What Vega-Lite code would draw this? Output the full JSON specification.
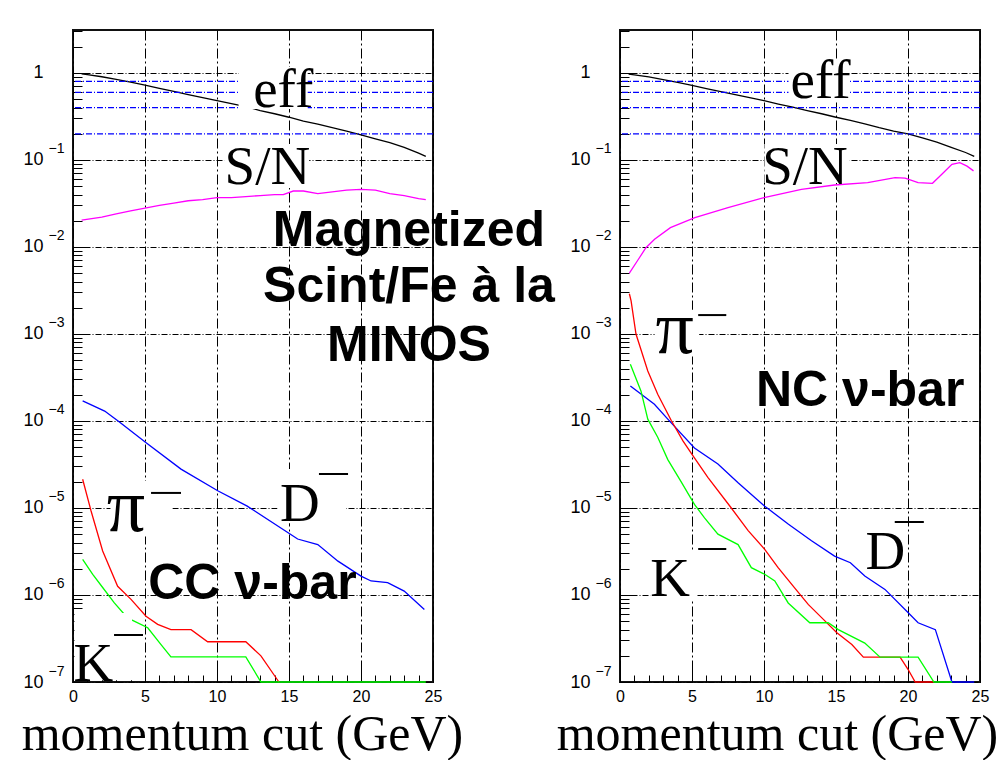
{
  "$schema": "https://vega.github.io/schema/vega-lite/v6.json",
  "background": "white",
  "padding": {"left": 20, "top": 29, "right": 0, "bottom": 0},
  "autosize": {"type": "pad"},
  "config": {
    "view": {"stroke": "#111111", "strokeWidth": 2},
    "axis": {"labelFont": "Liberation Sans", "labelColor": "black", "tickColor": "black", "tickWidth": 1}
  },
  "datasets": {
    "hlines": [{"y": 0.2}, {"y": 0.4}, {"y": 0.6}, {"y": 0.8}],
    "curves": [
      {"panel": "L", "series": "eff", "x": 0.6, "y": 0.98},
      {"panel": "L", "series": "eff", "x": 1, "y": 0.96},
      {"panel": "L", "series": "eff", "x": 2, "y": 0.905},
      {"panel": "L", "series": "eff", "x": 3, "y": 0.845},
      {"panel": "L", "series": "eff", "x": 4, "y": 0.785},
      {"panel": "L", "series": "eff", "x": 5, "y": 0.725},
      {"panel": "L", "series": "eff", "x": 6, "y": 0.665},
      {"panel": "L", "series": "eff", "x": 7, "y": 0.615},
      {"panel": "L", "series": "eff", "x": 8, "y": 0.565},
      {"panel": "L", "series": "eff", "x": 9, "y": 0.52},
      {"panel": "L", "series": "eff", "x": 10, "y": 0.48},
      {"panel": "L", "series": "eff", "x": 11, "y": 0.445},
      {"panel": "L", "series": "eff", "x": 12, "y": 0.41},
      {"panel": "L", "series": "eff", "x": 13, "y": 0.37},
      {"panel": "L", "series": "eff", "x": 14, "y": 0.34},
      {"panel": "L", "series": "eff", "x": 15, "y": 0.31},
      {"panel": "L", "series": "eff", "x": 16, "y": 0.28},
      {"panel": "L", "series": "eff", "x": 17, "y": 0.258},
      {"panel": "L", "series": "eff", "x": 18, "y": 0.235},
      {"panel": "L", "series": "eff", "x": 19, "y": 0.215},
      {"panel": "L", "series": "eff", "x": 20, "y": 0.195},
      {"panel": "L", "series": "eff", "x": 21, "y": 0.175},
      {"panel": "L", "series": "eff", "x": 22, "y": 0.158},
      {"panel": "L", "series": "eff", "x": 23, "y": 0.14},
      {"panel": "L", "series": "eff", "x": 24, "y": 0.12},
      {"panel": "L", "series": "eff", "x": 24.5, "y": 0.11},
      {"panel": "L", "series": "S/N", "x": 0.6, "y": 0.0204},
      {"panel": "L", "series": "S/N", "x": 2, "y": 0.022},
      {"panel": "L", "series": "S/N", "x": 3, "y": 0.024},
      {"panel": "L", "series": "S/N", "x": 4, "y": 0.026},
      {"panel": "L", "series": "S/N", "x": 5, "y": 0.028},
      {"panel": "L", "series": "S/N", "x": 6, "y": 0.03},
      {"panel": "L", "series": "S/N", "x": 7, "y": 0.032},
      {"panel": "L", "series": "S/N", "x": 8, "y": 0.034},
      {"panel": "L", "series": "S/N", "x": 9, "y": 0.035},
      {"panel": "L", "series": "S/N", "x": 10, "y": 0.037},
      {"panel": "L", "series": "S/N", "x": 11, "y": 0.037},
      {"panel": "L", "series": "S/N", "x": 12, "y": 0.038},
      {"panel": "L", "series": "S/N", "x": 13, "y": 0.039},
      {"panel": "L", "series": "S/N", "x": 14, "y": 0.04},
      {"panel": "L", "series": "S/N", "x": 14.6, "y": 0.04},
      {"panel": "L", "series": "S/N", "x": 15.3, "y": 0.044},
      {"panel": "L", "series": "S/N", "x": 16, "y": 0.044},
      {"panel": "L", "series": "S/N", "x": 17, "y": 0.041},
      {"panel": "L", "series": "S/N", "x": 18, "y": 0.043},
      {"panel": "L", "series": "S/N", "x": 19, "y": 0.045},
      {"panel": "L", "series": "S/N", "x": 20, "y": 0.046},
      {"panel": "L", "series": "S/N", "x": 21, "y": 0.045},
      {"panel": "L", "series": "S/N", "x": 22, "y": 0.041},
      {"panel": "L", "series": "S/N", "x": 23, "y": 0.039},
      {"panel": "L", "series": "S/N", "x": 24, "y": 0.036},
      {"panel": "L", "series": "S/N", "x": 24.5, "y": 0.035},
      {"panel": "L", "series": "D", "x": 0.67, "y": 1.7e-4},
      {"panel": "L", "series": "D", "x": 2.2, "y": 1.3e-4},
      {"panel": "L", "series": "D", "x": 3.2, "y": 9.8e-5},
      {"panel": "L", "series": "D", "x": 5.1, "y": 5.6e-5},
      {"panel": "L", "series": "D", "x": 7.5, "y": 2.8e-5},
      {"panel": "L", "series": "D", "x": 10.05, "y": 1.58e-5},
      {"panel": "L", "series": "D", "x": 12.1, "y": 1.05e-5},
      {"panel": "L", "series": "D", "x": 15.1, "y": 5.0e-6},
      {"panel": "L", "series": "D", "x": 15.6, "y": 4.4e-6},
      {"panel": "L", "series": "D", "x": 17.0, "y": 3.8e-6},
      {"panel": "L", "series": "D", "x": 18.4, "y": 2.45e-6},
      {"panel": "L", "series": "D", "x": 20.0, "y": 1.65e-6},
      {"panel": "L", "series": "D", "x": 20.7, "y": 1.45e-6},
      {"panel": "L", "series": "D", "x": 21.85, "y": 1.39e-6},
      {"panel": "L", "series": "D", "x": 23.0, "y": 1.11e-6},
      {"panel": "L", "series": "D", "x": 24.4, "y": 6.8e-7},
      {"panel": "L", "series": "pi", "x": 0.67, "y": 2.14e-5},
      {"panel": "L", "series": "pi", "x": 1.25, "y": 9.3e-6},
      {"panel": "L", "series": "pi", "x": 2.06, "y": 3.2e-6},
      {"panel": "L", "series": "pi", "x": 3.1, "y": 1.26e-6},
      {"panel": "L", "series": "pi", "x": 4.03, "y": 8.9e-7},
      {"panel": "L", "series": "pi", "x": 5.07, "y": 5.7e-7},
      {"panel": "L", "series": "pi", "x": 5.88, "y": 4.6e-7},
      {"panel": "L", "series": "pi", "x": 6.8, "y": 4.0e-7},
      {"panel": "L", "series": "pi", "x": 8.2, "y": 4.0e-7},
      {"panel": "L", "series": "pi", "x": 9.35, "y": 2.9e-7},
      {"panel": "L", "series": "pi", "x": 12.0, "y": 2.9e-7},
      {"panel": "L", "series": "pi", "x": 13.05, "y": 2.0e-7},
      {"panel": "L", "series": "pi", "x": 14.3, "y": 1e-7},
      {"panel": "L", "series": "K", "x": 0.67, "y": 2.57e-6},
      {"panel": "L", "series": "K", "x": 1.37, "y": 1.73e-6},
      {"panel": "L", "series": "K", "x": 2.06, "y": 1.22e-6},
      {"panel": "L", "series": "K", "x": 2.87, "y": 8.1e-7},
      {"panel": "L", "series": "K", "x": 3.56, "y": 6.0e-7},
      {"panel": "L", "series": "K", "x": 4.14, "y": 5.1e-7},
      {"panel": "L", "series": "K", "x": 5.19, "y": 4.2e-7},
      {"panel": "L", "series": "K", "x": 6.1, "y": 2.7e-7},
      {"panel": "L", "series": "K", "x": 6.8, "y": 1.94e-7},
      {"panel": "L", "series": "K", "x": 12.0, "y": 1.94e-7},
      {"panel": "L", "series": "K", "x": 13.05, "y": 1e-7},
      {"panel": "L", "series": "K", "x": 24.5, "y": 1e-7},
      {"panel": "R", "series": "eff", "x": 0.6, "y": 0.97},
      {"panel": "R", "series": "eff", "x": 1, "y": 0.95},
      {"panel": "R", "series": "eff", "x": 2, "y": 0.9},
      {"panel": "R", "series": "eff", "x": 3, "y": 0.84},
      {"panel": "R", "series": "eff", "x": 4, "y": 0.78},
      {"panel": "R", "series": "eff", "x": 5, "y": 0.72},
      {"panel": "R", "series": "eff", "x": 6, "y": 0.66},
      {"panel": "R", "series": "eff", "x": 7, "y": 0.61},
      {"panel": "R", "series": "eff", "x": 8, "y": 0.565},
      {"panel": "R", "series": "eff", "x": 9, "y": 0.52},
      {"panel": "R", "series": "eff", "x": 10, "y": 0.48},
      {"panel": "R", "series": "eff", "x": 11, "y": 0.44},
      {"panel": "R", "series": "eff", "x": 12, "y": 0.405},
      {"panel": "R", "series": "eff", "x": 13, "y": 0.37},
      {"panel": "R", "series": "eff", "x": 14, "y": 0.34},
      {"panel": "R", "series": "eff", "x": 15, "y": 0.31},
      {"panel": "R", "series": "eff", "x": 16, "y": 0.285},
      {"panel": "R", "series": "eff", "x": 17, "y": 0.26},
      {"panel": "R", "series": "eff", "x": 18, "y": 0.235},
      {"panel": "R", "series": "eff", "x": 19, "y": 0.215},
      {"panel": "R", "series": "eff", "x": 20, "y": 0.2},
      {"panel": "R", "series": "eff", "x": 21, "y": 0.18},
      {"panel": "R", "series": "eff", "x": 22, "y": 0.16},
      {"panel": "R", "series": "eff", "x": 23, "y": 0.14},
      {"panel": "R", "series": "eff", "x": 24, "y": 0.122},
      {"panel": "R", "series": "eff", "x": 24.6, "y": 0.11},
      {"panel": "R", "series": "S/N", "x": 0.65, "y": 0.005},
      {"panel": "R", "series": "S/N", "x": 1.2, "y": 0.0069},
      {"panel": "R", "series": "S/N", "x": 1.8, "y": 0.0098},
      {"panel": "R", "series": "S/N", "x": 2.4, "y": 0.0123},
      {"panel": "R", "series": "S/N", "x": 3.5, "y": 0.0167},
      {"panel": "R", "series": "S/N", "x": 5.2, "y": 0.0217},
      {"panel": "R", "series": "S/N", "x": 7.5, "y": 0.0283},
      {"panel": "R", "series": "S/N", "x": 10, "y": 0.0369},
      {"panel": "R", "series": "S/N", "x": 12.6, "y": 0.046},
      {"panel": "R", "series": "S/N", "x": 14.9, "y": 0.0516},
      {"panel": "R", "series": "S/N", "x": 17.2, "y": 0.055},
      {"panel": "R", "series": "S/N", "x": 19.1, "y": 0.0626},
      {"panel": "R", "series": "S/N", "x": 19.8, "y": 0.062},
      {"panel": "R", "series": "S/N", "x": 20.7, "y": 0.055},
      {"panel": "R", "series": "S/N", "x": 21.7, "y": 0.054},
      {"panel": "R", "series": "S/N", "x": 22.35, "y": 0.0685},
      {"panel": "R", "series": "S/N", "x": 23.05, "y": 0.089},
      {"panel": "R", "series": "S/N", "x": 23.6, "y": 0.093},
      {"panel": "R", "series": "S/N", "x": 24.1, "y": 0.085},
      {"panel": "R", "series": "S/N", "x": 24.55, "y": 0.075},
      {"panel": "R", "series": "D", "x": 0.72, "y": 2.53e-4},
      {"panel": "R", "series": "D", "x": 2.39, "y": 1.56e-4},
      {"panel": "R", "series": "D", "x": 3.32, "y": 1.05e-4},
      {"panel": "R", "series": "D", "x": 5.17, "y": 4.9e-5},
      {"panel": "R", "series": "D", "x": 6.8, "y": 3.2e-5},
      {"panel": "R", "series": "D", "x": 8.2, "y": 1.95e-5},
      {"panel": "R", "series": "D", "x": 10.05, "y": 1.05e-5},
      {"panel": "R", "series": "D", "x": 11.7, "y": 6.5e-6},
      {"panel": "R", "series": "D", "x": 13.3, "y": 4.2e-6},
      {"panel": "R", "series": "D", "x": 14.9, "y": 2.8e-6},
      {"panel": "R", "series": "D", "x": 16.0, "y": 2.35e-6},
      {"panel": "R", "series": "D", "x": 17.0, "y": 1.65e-6},
      {"panel": "R", "series": "D", "x": 18.4, "y": 1.16e-6},
      {"panel": "R", "series": "D", "x": 20.0, "y": 6.3e-7},
      {"panel": "R", "series": "D", "x": 20.7, "y": 4.8e-7},
      {"panel": "R", "series": "D", "x": 21.9, "y": 4.0e-7},
      {"panel": "R", "series": "D", "x": 23.05, "y": 1e-7},
      {"panel": "R", "series": "D", "x": 24.6, "y": 1e-7},
      {"panel": "R", "series": "pi", "x": 0.65, "y": 2.9e-3},
      {"panel": "R", "series": "pi", "x": 0.77, "y": 2.4e-3},
      {"panel": "R", "series": "pi", "x": 1.11, "y": 1.0e-3},
      {"panel": "R", "series": "pi", "x": 1.93, "y": 3.76e-4},
      {"panel": "R", "series": "pi", "x": 2.62, "y": 2.03e-4},
      {"panel": "R", "series": "pi", "x": 3.55, "y": 1.02e-4},
      {"panel": "R", "series": "pi", "x": 4.37, "y": 5.9e-5},
      {"panel": "R", "series": "pi", "x": 5.06, "y": 4.0e-5},
      {"panel": "R", "series": "pi", "x": 6.1, "y": 2.25e-5},
      {"panel": "R", "series": "pi", "x": 7.73, "y": 1.0e-5},
      {"panel": "R", "series": "pi", "x": 8.9, "y": 5.5e-6},
      {"panel": "R", "series": "pi", "x": 10.05, "y": 3.35e-6},
      {"panel": "R", "series": "pi", "x": 10.98, "y": 2.06e-6},
      {"panel": "R", "series": "pi", "x": 12.14, "y": 1.2e-6},
      {"panel": "R", "series": "pi", "x": 13.07, "y": 7.8e-7},
      {"panel": "R", "series": "pi", "x": 14.0, "y": 5.5e-7},
      {"panel": "R", "series": "pi", "x": 15.04, "y": 3.7e-7},
      {"panel": "R", "series": "pi", "x": 16.1, "y": 2.7e-7},
      {"panel": "R", "series": "pi", "x": 16.9, "y": 1.93e-7},
      {"panel": "R", "series": "pi", "x": 19.45, "y": 1.93e-7},
      {"panel": "R", "series": "pi", "x": 20.0, "y": 1.4e-7},
      {"panel": "R", "series": "pi", "x": 20.5, "y": 1e-7},
      {"panel": "R", "series": "pi", "x": 21.8, "y": 1e-7},
      {"panel": "R", "series": "K", "x": 0.72, "y": 4.5e-4},
      {"panel": "R", "series": "K", "x": 1.46, "y": 2.2e-4},
      {"panel": "R", "series": "K", "x": 1.93, "y": 1.05e-4},
      {"panel": "R", "series": "K", "x": 2.62, "y": 6.5e-5},
      {"panel": "R", "series": "K", "x": 3.32, "y": 3.6e-5},
      {"panel": "R", "series": "K", "x": 4.25, "y": 2.0e-5},
      {"panel": "R", "series": "K", "x": 5.17, "y": 1.1e-5},
      {"panel": "R", "series": "K", "x": 5.87, "y": 7.7e-6},
      {"panel": "R", "series": "K", "x": 6.8, "y": 5.0e-6},
      {"panel": "R", "series": "K", "x": 8.2, "y": 3.8e-6},
      {"panel": "R", "series": "K", "x": 9.12, "y": 2.06e-6},
      {"panel": "R", "series": "K", "x": 10.05, "y": 1.73e-6},
      {"panel": "R", "series": "K", "x": 10.75, "y": 1.45e-6},
      {"panel": "R", "series": "K", "x": 11.68, "y": 8.1e-7},
      {"panel": "R", "series": "K", "x": 13.18, "y": 4.8e-7},
      {"panel": "R", "series": "K", "x": 14.46, "y": 4.8e-7},
      {"panel": "R", "series": "K", "x": 15.16, "y": 4.0e-7},
      {"panel": "R", "series": "K", "x": 17.0, "y": 2.8e-7},
      {"panel": "R", "series": "K", "x": 18.06, "y": 1.93e-7},
      {"panel": "R", "series": "K", "x": 20.7, "y": 1.93e-7},
      {"panel": "R", "series": "K", "x": 21.8, "y": 1e-7},
      {"panel": "R", "series": "K", "x": 23.05, "y": 1e-7}
    ],
    "boxes": [
      {"panel": "L", "x": 11.5, "x2": 16.3, "y": 0.385, "y2": 1.17},
      {"panel": "L", "x": 10.5, "x2": 16.4, "y": 0.0476, "y2": 0.153},
      {"panel": "L", "x": 2.6, "x2": 6.9, "y": 4.7e-6, "y2": 2.04e-5},
      {"panel": "L", "x": 14.2, "x2": 18.96, "y": 6.7e-6, "y2": 2.8e-5},
      {"panel": "L", "x": 0.1, "x2": 4.1, "y": 1.05e-7, "y2": 6.2e-7},
      {"panel": "R", "x": 11.7, "x2": 15.95, "y": 0.49, "y2": 1.37},
      {"panel": "R", "x": 10.03, "x2": 15.95, "y": 0.0545, "y2": 0.153},
      {"panel": "R", "x": 2.4, "x2": 5.5, "y": 5.5e-4, "y2": 1.9e-3},
      {"panel": "R", "x": 2.1, "x2": 5.3, "y": 8.8e-7, "y2": 3.3e-6}
    ],
    "bars": [
      {"panel": "L", "x": 5.42, "x2": 7.5, "y": 1.49e-5},
      {"panel": "L", "x": 17.08, "x2": 19.1, "y": 2.46e-5},
      {"panel": "L", "x": 2.85, "x2": 4.86, "y": 3.47e-7},
      {"panel": "R", "x": 5.43, "x2": 7.38, "y": 1.65e-3},
      {"panel": "R", "x": 5.43, "x2": 7.38, "y": 3.38e-6},
      {"panel": "R", "x": 19.08, "x2": 21.1, "y": 6.9e-6}
    ],
    "labels": [
      {"panel": "L", "kind": "serif", "text": "eff", "x": 14.6, "y": 0.407},
      {"panel": "L", "kind": "serif", "text": "S/N", "x": 13.5, "y": 0.053},
      {"panel": "L", "kind": "pi", "text": "π", "x": 3.68, "y": 5.44e-6},
      {"panel": "L", "kind": "serif", "text": "D", "x": 15.76, "y": 7.1e-6},
      {"panel": "L", "kind": "serif", "text": "K", "x": 1.42, "y": 1.03e-7},
      {"panel": "L", "kind": "slide", "text": "Magnetized", "x": 23.33, "y": 0.01026},
      {"panel": "L", "kind": "slide", "text": "Scint/Fe à la", "x": 23.33, "y": 2.33e-3},
      {"panel": "L", "kind": "slide", "text": "MINOS", "x": 23.33, "y": 4.9e-4},
      {"panel": "L", "kind": "slide", "text": "CC ν-bar", "x": 12.46, "y": 9.0e-7},
      {"panel": "R", "kind": "serif", "text": "eff", "x": 13.93, "y": 0.516},
      {"panel": "R", "kind": "serif", "text": "S/N", "x": 12.85, "y": 0.053},
      {"panel": "R", "kind": "pi", "text": "π", "x": 3.8, "y": 6.05e-4},
      {"panel": "R", "kind": "serif", "text": "K", "x": 3.48, "y": 9.7e-7},
      {"panel": "R", "kind": "serif", "text": "D", "x": 18.42, "y": 2.0e-6},
      {"panel": "R", "kind": "slide", "text": "NC ν-bar", "x": 16.68, "y": 1.49e-4}
    ]
  },
  "bounds": "flush",
  "spacing": 187,
  "hconcat": [
    {
      "width": 360,
      "height": 652,
      "resolve": {"axis": {"x": "independent", "y": "independent"}},
      "layer": [
        {
          "data": {"name": "curves"},
          "transform": [{"filter": "datum.panel == 'L'"}],
          "mark": {"type": "line", "strokeWidth": 1.3},
          "encoding": {
            "x": {
              "field": "x", "type": "quantitative",
              "scale": {"domain": [0, 25], "nice": false, "zero": false},
              "axis": {
                "orient": "bottom",
                "values": [0, 5, 10, 15, 20, 25],
                "title": "momentum cut (GeV)",
                "titleFont": "Liberation Serif", "titleFontSize": 50, "titleFontWeight": "normal", "titleColor": "black",
                "titleX": 169, "titleY": 67, "titleBaseline": "alphabetic", "titleAlign": "center",
                "domain": false, "tickSize": -13,
                "grid": true, "gridColor": "black", "gridWidth": 1, "gridDash": [10, 3, 2, 3],
                "labelFontSize": 16, "labelPadding": 19, "labelFlush": false, "labelOverlap": false
              }
            },
            "y": {
              "field": "y", "type": "quantitative",
              "scale": {"type": "log", "domain": [1e-7, 3.12], "nice": false},
              "axis": {
                "orient": "left",
                "values": [1e-7, 1e-6, 1e-5, 1e-4, 0.001, 0.01, 0.1, 1],
                "title": null, "domain": false, "tickSize": -16,
                "grid": true, "gridColor": "black", "gridWidth": 1, "gridDash": [6, 2, 1, 2],
                "labelExpr": "datum.value > 0.5 ? '1' : '10'",
                "labelFontSize": 18, "labelPadding": 46, "labelOverlap": false
              }
            },
            "color": {
              "field": "series", "type": "nominal",
              "scale": {"domain": ["eff", "S/N", "D", "pi", "K"], "range": ["#000000", "#ff00ff", "#0000ff", "#ff0000", "#00ff00"]},
              "legend": null
            }
          }
        },
        {
          "data": {"name": "hlines"},
          "mark": {"type": "rule", "color": "#0000ff", "strokeWidth": 1.3, "strokeDash": [6, 2, 1, 2]},
          "encoding": {
            "y": {"field": "y", "type": "quantitative", "scale": {"type": "log", "domain": [1e-7, 3.12], "nice": false}, "axis": null}
          }
        },
        {
          "data": {"name": "boxes"},
          "transform": [{"filter": "datum.panel == 'L'"}],
          "mark": {"type": "rect", "fill": "white"},
          "encoding": {
            "x": {"field": "x", "type": "quantitative", "scale": {"domain": [0, 25], "nice": false, "zero": false},
              "axis": {"orient": "bottom", "values": [0,1,2,3,4,5,6,7,8,9,10,11,12,13,14,15,16,17,18,19,20,21,22,23,24,25], "title": null, "domain": false, "labels": false, "grid": false, "tickSize": -7}},
            "x2": {"field": "x2"},
            "y": {"field": "y", "type": "quantitative", "scale": {"type": "log", "domain": [1e-7, 3.12], "nice": false},
              "axis": {"orient": "left", "values": [2e-7,3e-7,4e-7,5e-7,6e-7,7e-7,8e-7,9e-7,2e-6,3e-6,4e-6,5e-6,6e-6,7e-6,8e-6,9e-6,2e-5,3e-5,4e-5,5e-5,6e-5,7e-5,8e-5,9e-5,2e-4,3e-4,4e-4,5e-4,6e-4,7e-4,8e-4,9e-4,0.002,0.003,0.004,0.005,0.006,0.007,0.008,0.009,0.02,0.03,0.04,0.05,0.06,0.07,0.08,0.09,0.2,0.3,0.4,0.5,0.6,0.7,0.8,0.9,2,3], "title": null, "domain": false, "labels": false, "grid": false, "tickSize": -9}},
            "y2": {"field": "y2"}
          }
        },
        {
          "data": {"name": "labels"},
          "transform": [{"filter": "datum.panel == 'L' && datum.kind == 'serif'"}],
          "mark": {"type": "text", "font": "Liberation Serif", "fontSize": 55, "align": "center", "baseline": "alphabetic", "color": "black"},
          "encoding": {
            "x": {"field": "x", "type": "quantitative", "scale": {"domain": [0, 25], "nice": false, "zero": false}, "axis": null},
            "y": {"field": "y", "type": "quantitative", "scale": {"type": "log", "domain": [1e-7, 3.12], "nice": false},
              "axis": {"orient": "left", "values": [1e-7, 1e-6, 1e-5, 1e-4, 0.001, 0.01, 0.1], "title": null, "domain": false, "ticks": false, "tickSize": 0, "grid": false,
                "labelExpr": "'−' + round(-log(datum.value)/LN10)", "labelFontSize": 14, "labelPadding": 9, "labelOffset": -11, "labelOverlap": false}},
            "text": {"field": "text"}
          }
        },
        {
          "data": {"name": "labels"},
          "transform": [{"filter": "datum.panel == 'L' && datum.kind == 'pi'"}],
          "mark": {"type": "text", "font": "Liberation Serif", "fontSize": 76, "align": "center", "baseline": "alphabetic", "color": "black"},
          "encoding": {
            "x": {"field": "x", "type": "quantitative", "scale": {"domain": [0, 25], "nice": false, "zero": false}, "axis": null},
            "y": {"field": "y", "type": "quantitative", "scale": {"type": "log", "domain": [1e-7, 3.12], "nice": false}, "axis": null},
            "text": {"field": "text"}
          }
        },
        {
          "data": {"name": "bars"},
          "transform": [{"filter": "datum.panel == 'L'"}],
          "mark": {"type": "rule", "color": "black", "strokeWidth": 2},
          "encoding": {
            "x": {"field": "x", "type": "quantitative", "scale": {"domain": [0, 25], "nice": false, "zero": false}, "axis": null},
            "x2": {"field": "x2"},
            "y": {"field": "y", "type": "quantitative", "scale": {"type": "log", "domain": [1e-7, 3.12], "nice": false}, "axis": null}
          }
        },
        {
          "data": {"name": "labels"},
          "transform": [{"filter": "datum.panel == 'L' && datum.kind == 'slide'"}],
          "mark": {"type": "text", "font": "Liberation Sans", "fontWeight": "bold", "fontSize": 50, "align": "center", "baseline": "alphabetic", "color": "black"},
          "encoding": {
            "x": {"field": "x", "type": "quantitative", "scale": {"domain": [0, 25], "nice": false, "zero": false}, "axis": null},
            "y": {"field": "y", "type": "quantitative", "scale": {"type": "log", "domain": [1e-7, 3.12], "nice": false}, "axis": null},
            "text": {"field": "text"}
          }
        }
      ]
    },
    {
      "width": 360,
      "height": 652,
      "resolve": {"axis": {"x": "independent", "y": "independent"}},
      "layer": [
        {
          "data": {"name": "curves"},
          "transform": [{"filter": "datum.panel == 'R'"}],
          "mark": {"type": "line", "strokeWidth": 1.3},
          "encoding": {
            "x": {
              "field": "x", "type": "quantitative",
              "scale": {"domain": [0, 25], "nice": false, "zero": false},
              "axis": {
                "orient": "bottom",
                "values": [0, 5, 10, 15, 20, 25],
                "title": "momentum cut (GeV)",
                "titleFont": "Liberation Serif", "titleFontSize": 50, "titleFontWeight": "normal", "titleColor": "black",
                "titleX": 157, "titleY": 67, "titleBaseline": "alphabetic", "titleAlign": "center",
                "domain": false, "tickSize": -13,
                "grid": true, "gridColor": "black", "gridWidth": 1, "gridDash": [10, 3, 2, 3],
                "labelFontSize": 16, "labelPadding": 19, "labelFlush": false, "labelOverlap": false
              }
            },
            "y": {
              "field": "y", "type": "quantitative",
              "scale": {"type": "log", "domain": [1e-7, 3.12], "nice": false},
              "axis": {
                "orient": "left",
                "values": [1e-7, 1e-6, 1e-5, 1e-4, 0.001, 0.01, 0.1, 1],
                "title": null, "domain": false, "tickSize": -16,
                "grid": true, "gridColor": "black", "gridWidth": 1, "gridDash": [6, 2, 1, 2],
                "labelExpr": "datum.value > 0.5 ? '1' : '10'",
                "labelFontSize": 18, "labelPadding": 46, "labelOverlap": false
              }
            },
            "color": {
              "field": "series", "type": "nominal",
              "scale": {"domain": ["eff", "S/N", "D", "pi", "K"], "range": ["#000000", "#ff00ff", "#0000ff", "#ff0000", "#00ff00"]},
              "legend": null
            }
          }
        },
        {
          "data": {"name": "hlines"},
          "mark": {"type": "rule", "color": "#0000ff", "strokeWidth": 1.3, "strokeDash": [6, 2, 1, 2]},
          "encoding": {
            "y": {"field": "y", "type": "quantitative", "scale": {"type": "log", "domain": [1e-7, 3.12], "nice": false}, "axis": null}
          }
        },
        {
          "data": {"name": "boxes"},
          "transform": [{"filter": "datum.panel == 'R'"}],
          "mark": {"type": "rect", "fill": "white"},
          "encoding": {
            "x": {"field": "x", "type": "quantitative", "scale": {"domain": [0, 25], "nice": false, "zero": false},
              "axis": {"orient": "bottom", "values": [0,1,2,3,4,5,6,7,8,9,10,11,12,13,14,15,16,17,18,19,20,21,22,23,24,25], "title": null, "domain": false, "labels": false, "grid": false, "tickSize": -7}},
            "x2": {"field": "x2"},
            "y": {"field": "y", "type": "quantitative", "scale": {"type": "log", "domain": [1e-7, 3.12], "nice": false},
              "axis": {"orient": "left", "values": [2e-7,3e-7,4e-7,5e-7,6e-7,7e-7,8e-7,9e-7,2e-6,3e-6,4e-6,5e-6,6e-6,7e-6,8e-6,9e-6,2e-5,3e-5,4e-5,5e-5,6e-5,7e-5,8e-5,9e-5,2e-4,3e-4,4e-4,5e-4,6e-4,7e-4,8e-4,9e-4,0.002,0.003,0.004,0.005,0.006,0.007,0.008,0.009,0.02,0.03,0.04,0.05,0.06,0.07,0.08,0.09,0.2,0.3,0.4,0.5,0.6,0.7,0.8,0.9,2,3], "title": null, "domain": false, "labels": false, "grid": false, "tickSize": -9}},
            "y2": {"field": "y2"}
          }
        },
        {
          "data": {"name": "labels"},
          "transform": [{"filter": "datum.panel == 'R' && datum.kind == 'serif'"}],
          "mark": {"type": "text", "font": "Liberation Serif", "fontSize": 55, "align": "center", "baseline": "alphabetic", "color": "black"},
          "encoding": {
            "x": {"field": "x", "type": "quantitative", "scale": {"domain": [0, 25], "nice": false, "zero": false}, "axis": null},
            "y": {"field": "y", "type": "quantitative", "scale": {"type": "log", "domain": [1e-7, 3.12], "nice": false},
              "axis": {"orient": "left", "values": [1e-7, 1e-6, 1e-5, 1e-4, 0.001, 0.01, 0.1], "title": null, "domain": false, "ticks": false, "tickSize": 0, "grid": false,
                "labelExpr": "'−' + round(-log(datum.value)/LN10)", "labelFontSize": 14, "labelPadding": 9, "labelOffset": -11, "labelOverlap": false}},
            "text": {"field": "text"}
          }
        },
        {
          "data": {"name": "labels"},
          "transform": [{"filter": "datum.panel == 'R' && datum.kind == 'pi'"}],
          "mark": {"type": "text", "font": "Liberation Serif", "fontSize": 76, "align": "center", "baseline": "alphabetic", "color": "black"},
          "encoding": {
            "x": {"field": "x", "type": "quantitative", "scale": {"domain": [0, 25], "nice": false, "zero": false}, "axis": null},
            "y": {"field": "y", "type": "quantitative", "scale": {"type": "log", "domain": [1e-7, 3.12], "nice": false}, "axis": null},
            "text": {"field": "text"}
          }
        },
        {
          "data": {"name": "bars"},
          "transform": [{"filter": "datum.panel == 'R'"}],
          "mark": {"type": "rule", "color": "black", "strokeWidth": 2},
          "encoding": {
            "x": {"field": "x", "type": "quantitative", "scale": {"domain": [0, 25], "nice": false, "zero": false}, "axis": null},
            "x2": {"field": "x2"},
            "y": {"field": "y", "type": "quantitative", "scale": {"type": "log", "domain": [1e-7, 3.12], "nice": false}, "axis": null}
          }
        },
        {
          "data": {"name": "labels"},
          "transform": [{"filter": "datum.panel == 'R' && datum.kind == 'slide'"}],
          "mark": {"type": "text", "font": "Liberation Sans", "fontWeight": "bold", "fontSize": 50, "align": "center", "baseline": "alphabetic", "color": "black"},
          "encoding": {
            "x": {"field": "x", "type": "quantitative", "scale": {"domain": [0, 25], "nice": false, "zero": false}, "axis": null},
            "y": {"field": "y", "type": "quantitative", "scale": {"type": "log", "domain": [1e-7, 3.12], "nice": false}, "axis": null},
            "text": {"field": "text"}
          }
        }
      ]
    }
  ]
}
